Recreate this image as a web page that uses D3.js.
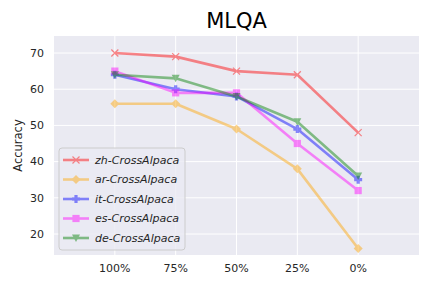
<!DOCTYPE html>
<html>
<head>
<meta charset="utf-8">
<script src="https://cdn.jsdelivr.net/npm/d3@7"></script>
<style>
  body { margin: 0; background: #fff; }
  svg { font-family: "DejaVu Sans", sans-serif; }
</style>
</head>
<body>
<svg id="chart" width="432" height="288"></svg>
<script>
const categories = ["100%", "75%", "50%", "25%", "0%"];
const seriesNames = ["zh-CrossAlpaca", "ar-CrossAlpaca", "it-CrossAlpaca", "es-CrossAlpaca", "de-CrossAlpaca"];
const zhValues = [70, 69, 65, 64, 48];
const arValues = [56, 56, 49, 38, 16];
const itValues = [64, 60, 58, 49, 35];
const esValues = [65, 59, 59, 45, 32];
const deValues = [64, 63, 58, 51, 36];
const yTicks = [20, 30, 40, 50, 60, 70];

const colors = ["#ff0000", "#ffa500", "#0000ff", "#ff00ff", "#008000"];
const markers = ["x", "diamond", "plus", "square", "tri"];
const allValues = [zhValues, arValues, itValues, esValues, deValues];

const svg = d3.select("#chart");
const plotLeft = 54, plotRight = 419, plotTop = 36, plotBottom = 255;

const x = d3.scaleLinear().domain([-1, 5]).range([plotLeft, plotRight]);
const y = d3.scaleLinear().domain([14.2, 74.7]).range([plotBottom, plotTop]);

// background
svg.append("rect")
    .attr("x", plotLeft).attr("y", plotTop)
    .attr("width", plotRight - plotLeft).attr("height", plotBottom - plotTop)
    .attr("fill", "#eaeaf2");

// grid
svg.append("g").selectAll("line").data(yTicks).join("line")
    .attr("x1", plotLeft).attr("x2", plotRight)
    .attr("y1", d => y(d)).attr("y2", d => y(d))
    .attr("stroke", "#fff").attr("stroke-width", 1);
svg.append("g").selectAll("line").data(categories).join("line")
    .attr("x1", (d, i) => x(i)).attr("x2", (d, i) => x(i))
    .attr("y1", plotTop).attr("y2", plotBottom)
    .attr("stroke", "#fff").attr("stroke-width", 1);

// tick labels
svg.append("g").selectAll("text").data(yTicks).join("text")
    .attr("x", plotLeft - 10).attr("y", d => y(d))
    .attr("dy", "0.35em").attr("text-anchor", "end")
    .attr("font-size", 11).attr("fill", "#262626")
    .text(d => d);
svg.append("g").selectAll("text").data(categories).join("text")
    .attr("x", (d, i) => x(i)).attr("y", plotBottom + 17)
    .attr("text-anchor", "middle")
    .attr("font-size", 11).attr("fill", "#262626")
    .text(d => d);

svg.append("text")
    .attr("x", (plotLeft + plotRight) / 2).attr("y", 28)
    .attr("text-anchor", "middle").attr("font-size", 21).attr("fill", "#000")
    .text("MLQA");

svg.append("text")
    .attr("transform", `translate(22,${(plotTop + plotBottom) / 2}) rotate(-90)`)
    .attr("text-anchor", "middle").attr("font-size", 11.5).attr("fill", "#262626")
    .text("Accuracy");

function drawMarker(g, type, color, cx, cy) {
    const s = 3.5;
    if (type === "x") {
        g.append("path")
            .attr("d", `M${cx - s},${cy - s}L${cx + s},${cy + s}M${cx - s},${cy + s}L${cx + s},${cy - s}`)
            .attr("stroke", color).attr("stroke-width", 1.2).attr("fill", "none");
    } else if (type === "diamond") {
        g.append("path")
            .attr("d", `M${cx},${cy - 4.5}L${cx + 4.5},${cy}L${cx},${cy + 4.5}L${cx - 4.5},${cy}Z`)
            .attr("fill", color);
    } else if (type === "plus") {
        const a = 4, b = 1.6;
        g.append("path")
            .attr("d", `M${cx - b},${cy - a}H${cx + b}V${cy - b}H${cx + a}V${cy + b}H${cx + b}V${cy + a}H${cx - b}V${cy + b}H${cx - a}V${cy - b}H${cx - b}Z`)
            .attr("fill", color);
    } else if (type === "square") {
        g.append("rect")
            .attr("x", cx - 3.6).attr("y", cy - 3.6)
            .attr("width", 7.2).attr("height", 7.2).attr("fill", color);
    } else if (type === "tri") {
        g.append("path")
            .attr("d", `M${cx - 4},${cy - 3.5}L${cx + 4},${cy - 3.5}L${cx},${cy + 4}Z`)
            .attr("fill", color);
    }
}

const line = d3.line().x((d, i) => x(i)).y(d => y(d));

allValues.forEach((vals, k) => {
    const g = svg.append("g").attr("opacity", 0.45);
    g.append("path")
        .attr("d", line(vals))
        .attr("fill", "none").attr("stroke", colors[k])
        .attr("stroke-width", 2.6).attr("stroke-linejoin", "round");
    vals.forEach((v, i) => drawMarker(g, markers[k], colors[k], x(i), y(v)));
});

// legend
const lg = svg.append("g");
lg.append("rect")
    .attr("x", 59).attr("y", 148).attr("width", 126).attr("height", 102)
    .attr("rx", 3).attr("fill", "#eaeaf2").attr("fill-opacity", 0.8)
    .attr("stroke", "#cccccc").attr("stroke-width", 1);
seriesNames.forEach((name, k) => {
    const ly = 160 + k * 19.5;
    const g = lg.append("g").attr("opacity", 0.45);
    g.append("line")
        .attr("x1", 63).attr("x2", 89).attr("y1", ly).attr("y2", ly)
        .attr("stroke", colors[k]).attr("stroke-width", 2.6);
    drawMarker(g, markers[k], colors[k], 76, ly);
    lg.append("text")
        .attr("x", 95).attr("y", ly).attr("dy", "0.35em")
        .attr("font-size", 11).attr("font-style", "italic").attr("fill", "#262626")
        .text(name);
});
</script>
</body>
</html>
